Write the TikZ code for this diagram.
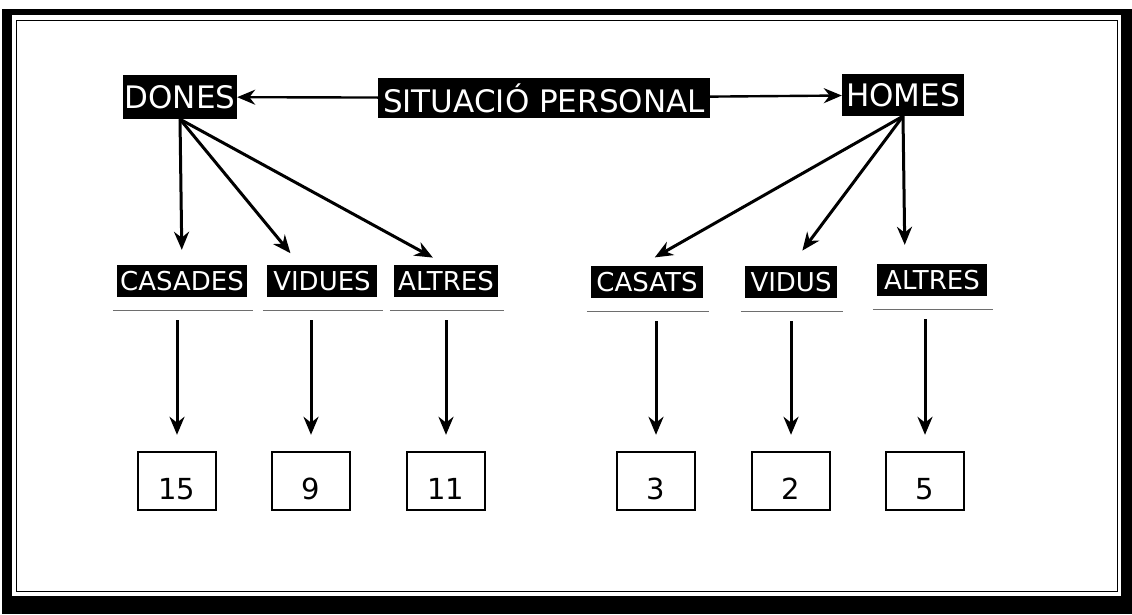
\documentclass[tikz,border=0pt]{standalone}
\usepackage{fontspec}
\setmainfont{DejaVu Sans}
\usepackage{tikz}
\usetikzlibrary{arrows.meta}
\usepackage{xcolor}
\definecolor{marc}{HTML}{000000}
\definecolor{ratlla}{HTML}{6E6E6E}

\begin{document}
\begin{tikzpicture}[x=1pt,y=-1pt,
		etiqueta/.style={fill=black,text=white,inner sep=0pt,font=\fontsize{26}{28}\selectfont},
		titol/.style={etiqueta,font=\fontsize{31}{33}\selectfont},
		xifra/.style={draw,line width=2.4pt,inner sep=0pt,minimum width=78,minimum height=58,text height=37pt,text depth=0pt,font=\fontsize{29}{30}\selectfont},
		fletxa/.style={line width=3pt,-{Stealth[length=18pt,width=15pt]}}]
		\useasboundingbox (0,0) rectangle (1132,614);
		% marc
		\fill[color=marc] (2,9) rectangle (1132,614);
		\fill[white] (12,15) rectangle (1121,596);
		\draw[line width=1pt,color=marc] (16,20) rectangle (1117,591);
		%
		\node[titol,minimum width=332,minimum height=40] (sit) at (544,98) {SITUACIÓ PERSONAL};
		\node[titol,minimum width=114,minimum height=44] (dones) at (180,97) {DONES};
		\node[titol,minimum width=122,minimum height=42] (homes) at (903,95) {HOMES};
		\draw[fletxa,line width=2.4pt] (sit) -- (dones);
		\draw[fletxa,line width=2.4pt] (sit) -- (homes);
		%
		\node[etiqueta,minimum width=130,minimum height=32] (casades) at (182,281) {CASADES};
		\node[etiqueta,minimum width=110,minimum height=32] (vidues) at (322,281) {VIDUES};
		\node[etiqueta,minimum width=104,minimum height=32] (altresd) at (446,281) {ALTRES};
		\node[etiqueta,minimum width=112,minimum height=32] (casats) at (647,282) {CASATS};
		\node[etiqueta,minimum width=92,minimum height=32] (vidus) at (791,282) {VIDUS};
		\node[etiqueta,minimum width=110,minimum height=32] (altresh) at (932,280) {ALTRES};
		\foreach \e in {casades,vidues,altresd,casats,vidus,altresh}
			\draw[color=ratlla,line width=1.2pt] ([shift={(-4pt,-13pt)}]\e.south west) -- ([shift={(6pt,-13pt)}]\e.south east);
		%
		\draw[fletxa,shorten >=15pt] (dones.south) -- (casades.north);
		\draw[fletxa,shorten >=15pt] (dones.south) -- ([xshift=-22pt]vidues.north);
		\draw[fletxa,shorten >=15pt] (dones.south) -- (altresd.north);
		\draw[fletxa,shorten >=17pt] (homes.south) -- ([xshift=-7pt]casats.north);
		\draw[fletxa,shorten >=19pt] (homes.south) -- (vidus.north);
		\draw[fletxa,shorten >=19pt] (homes.south) -- ([xshift=-27pt]altresh.north);
		%
		\node[xifra] (n15) at (177,481) {15};
		\node[xifra] (n9) at (311,481) {9};
		\node[xifra] (n11) at (446,481) {11};
		\node[xifra] (n3) at (656,481) {3};
		\node[xifra] (n2) at (791,481) {2};
		\node[xifra] (n5) at (925,481) {5};
		%
		\draw[fletxa,shorten <=23pt,shorten >=16pt] (n15 |- casades.south) -- (n15.north);
		\draw[fletxa,shorten <=23pt,shorten >=16pt] (n9 |- vidues.south) -- (n9.north);
		\draw[fletxa,shorten <=23pt,shorten >=16pt] (n11 |- altresd.south) -- (n11.north);
		\draw[fletxa,shorten <=23pt,shorten >=16pt] (n3 |- casats.south) -- (n3.north);
		\draw[fletxa,shorten <=23pt,shorten >=16pt] (n2 |- vidus.south) -- (n2.north);
		\draw[fletxa,shorten <=23pt,shorten >=16pt] (n5 |- altresh.south) -- (n5.north);
	\end{tikzpicture}
\end{document}
